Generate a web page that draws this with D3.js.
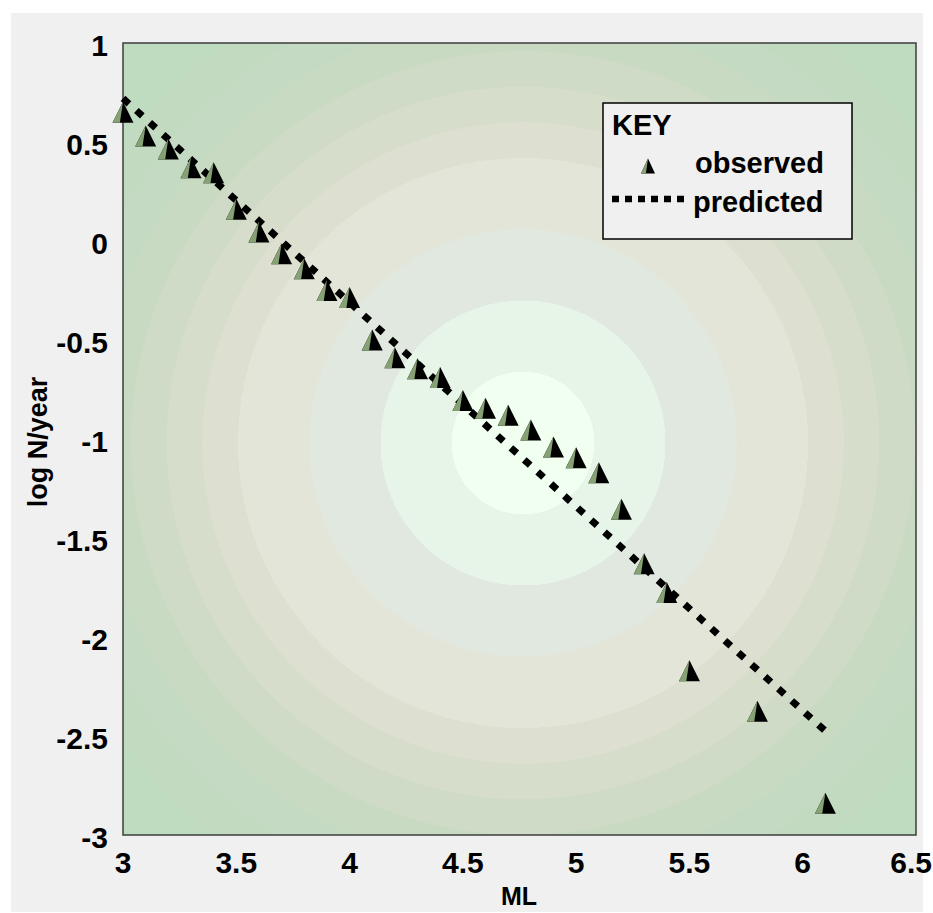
<!DOCTYPE html>
<html>
<head>
<meta charset="utf-8">
<script src="https://cdn.jsdelivr.net/npm/d3@7"></script>
<style>
  body { margin: 0; background: #fff; }
  text { font-family: "Liberation Sans", Arial, sans-serif; font-weight: bold; fill: #000; }
</style>
</head>
<body>
<svg id="chart" width="933" height="913"></svg>
<script>
// observed magnitudes and log N/year
var magnitudes = [3.0, 3.1, 3.2, 3.3, 3.4, 3.5, 3.6, 3.7, 3.8, 3.9, 4.0, 4.1, 4.2, 4.3, 4.4,
                  4.5, 4.6, 4.7, 4.8, 4.9, 5.0, 5.1, 5.2, 5.3, 5.4, 5.5, 5.8, 6.1];
var observed = [0.65, 0.53, 0.465, 0.37, 0.345, 0.16, 0.045, -0.065, -0.14, -0.25, -0.285, -0.5, -0.59, -0.645, -0.69,
                -0.805, -0.845, -0.88, -0.955, -1.04, -1.095, -1.17, -1.355, -1.63, -1.775, -2.17, -2.375, -2.84];
// predicted line end points
var predictedM = [3.0, 6.1];
var predicted = [0.72, -2.475];

var xTicks = [3, 3.5, 4, 4.5, 5, 5.5, 6, 6.5];
var xTickLabels = ["3", "3.5", "4", "4.5", "5", "5.5", "6", "6.5"];
var yTicks = [1, 0.5, 0, -0.5, -1, -1.5, -2, -2.5, -3];
var yTickLabels = ["1", "0.5", "0", "-0.5", "-1", "-1.5", "-2", "-2.5", "-3"];

var svg = d3.select("svg#chart");

var x = d3.scaleLinear().domain([3, 6.5]).range([123, 916]);
var y = d3.scaleLinear().domain([-3, 1]).range([835, 43]);

// outer grey panel
svg.append("rect")
  .attr("x", 11).attr("y", 13)
  .attr("width", 912).attr("height", 899)
  .attr("fill", "#f0f0f0");

// banded radial background, one colour per ring
var bands = ["#f0fff0", "#f0fff0", "#e6f5e8", "#e6f5e8", "#e0e8e0", "#e0e8e0",
             "#e2e5d8", "#e2e5d8", "#dde0d1", "#d6ddca", "#cfdbc6", "#c9dac3",
             "#c5dac2", "#c2dbc0", "#c0dcc0", "#c0dcc0"];
var defs = svg.append("defs");
var grad = defs.append("radialGradient")
  .attr("id", "bg")
  .attr("gradientUnits", "userSpaceOnUse")
  .attr("cx", 523).attr("cy", 443).attr("r", 570);
bands.forEach(function(c, i) {
  grad.append("stop").attr("offset", i / bands.length).attr("stop-color", c);
  grad.append("stop").attr("offset", (i + 1) / bands.length).attr("stop-color", c);
});

svg.append("rect")
  .attr("x", x(3)).attr("y", y(1))
  .attr("width", x(6.5) - x(3)).attr("height", y(-3) - y(1))
  .attr("fill", "url(#bg)")
  .attr("stroke", "#3c3c3c")
  .attr("stroke-width", 1.5);

// tick labels
svg.selectAll(".xlab")
  .data(xTicks)
  .enter().append("text")
  .attr("class", "xlab")
  .attr("x", function(d, i) { return i == xTicks.length - 1 ? 932 : x(d); })
  .attr("y", 873)
  .attr("text-anchor", function(d, i) { return i == xTicks.length - 1 ? "end" : "middle"; })
  .style("font-size", "30px")
  .text(function(d, i) { return xTickLabels[i]; });

svg.selectAll(".ylab")
  .data(yTicks)
  .enter().append("text")
  .attr("class", "ylab")
  .attr("x", 108)
  .attr("y", function(d) { return y(d) + 2; })
  .attr("dy", "0.36em")
  .attr("text-anchor", "end")
  .style("font-size", "30px")
  .text(function(d, i) { return yTickLabels[i]; });

// axis titles
svg.append("text")
  .attr("x", 519).attr("y", 905)
  .attr("text-anchor", "middle")
  .style("font-size", "25px")
  .text("ML");

svg.append("text")
  .attr("transform", "translate(47,442) rotate(-90)")
  .attr("text-anchor", "middle")
  .style("font-size", "27px")
  .text("log N/year");

// predicted line
var line = d3.line()
  .x(function(d) { return x(d[0]); })
  .y(function(d) { return y(d[1]); });

svg.append("path")
  .datum(d3.zip(predictedM, predicted))
  .attr("d", line)
  .attr("fill", "none")
  .attr("stroke", "#000")
  .attr("stroke-width", 7)
  .attr("stroke-dasharray", "8,10");

// observed triangles
function drawTri(g, w, h) {
  var a = w / 2, b = h / 2;
  g.append("path")
    .attr("d", "M0," + (-b) + "L" + a + "," + b + "L" + (-a) + "," + b + "Z")
    .attr("fill", "#000");
  g.append("path")
    .attr("d", "M0," + (-b) + "L" + (-w * 0.15) + "," + b + "L" + (-a) + "," + b + "Z")
    .attr("fill", "#86a174");
}

svg.selectAll(".obs")
  .data(d3.zip(magnitudes, observed))
  .enter().append("g")
  .attr("class", "obs")
  .attr("transform", function(d) { return "translate(" + x(d[0]) + "," + y(d[1]) + ")"; })
  .each(function() { drawTri(d3.select(this), 21, 21); });

// key
var key = svg.append("g");
key.append("rect")
  .attr("x", 603).attr("y", 103)
  .attr("width", 249).attr("height", 136)
  .attr("fill", "#f0f0f0")
  .attr("stroke", "#000")
  .attr("stroke-width", 1.5);
key.append("text").attr("x", 612).attr("y", 135).style("font-size", "29px").text("KEY");
drawTri(key.append("g").attr("transform", "translate(648,166)"), 14, 15);
key.append("text").attr("x", 695).attr("y", 173).style("font-size", "29px").text("observed");
key.append("line")
  .attr("x1", 612).attr("x2", 688)
  .attr("y1", 199).attr("y2", 199)
  .attr("stroke", "#000")
  .attr("stroke-width", 6.5)
  .attr("stroke-dasharray", "7,6");
key.append("text").attr("x", 693).attr("y", 212).style("font-size", "29px").text("predicted");
</script>
</body>
</html>
